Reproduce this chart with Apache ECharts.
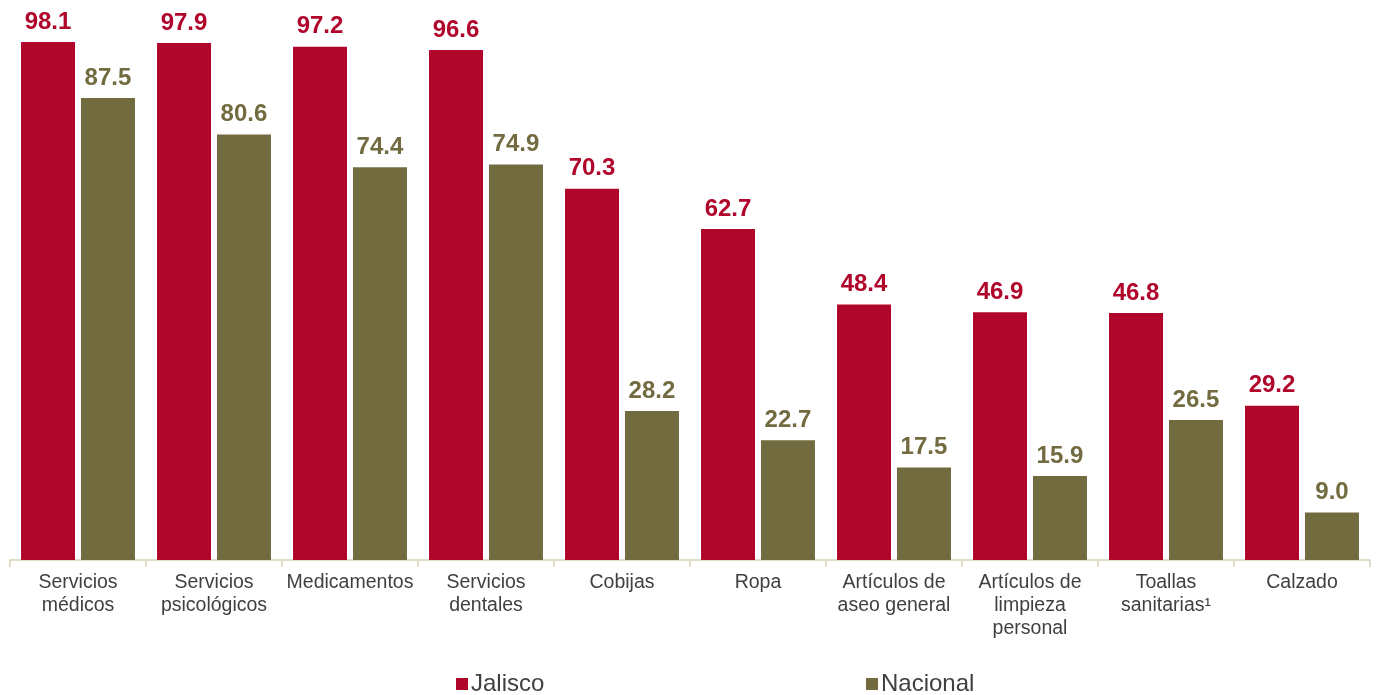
<!DOCTYPE html>
<html><head><meta charset="utf-8">
<script src="https://cdn.jsdelivr.net/npm/echarts@6/dist/echarts.min.js"></script>
<style>html,body{margin:0;padding:0;background:#fff}#c{width:1383px;height:695px}</style>
</head><body><div id="c"></div>
<script>
const categories = ["Servicios\nmédicos","Servicios\npsicológicos","Medicamentos","Servicios\ndentales","Cobijas","Ropa","Artículos de\naseo general","Artículos de\nlimpieza\npersonal","Toallas\nsanitarias¹","Calzado"];
const jalisco = [98.1,97.9,97.2,96.6,70.3,62.7,48.4,46.9,46.8,29.2];
const nacional = [87.5,80.6,74.4,74.9,28.2,22.7,17.5,15.9,26.5,9.0];
const RED = "#b0062c", OLIVE = "#736b40";
const FONT = 'Liberation Sans, Arial, sans-serif';
const chart = echarts.init(document.getElementById('c'));
const lbl = c => ({show:true, position:'top', distance:8, color:c, fontSize:24, fontWeight:'bold', fontFamily:FONT, formatter: p => p.value.toFixed(1)});
chart.setOption({
  animation:false,
  grid:{left:10,right:13,top:32,bottom:135},
  legend:[
    {data:['Jalisco'],left:451,top:667,itemWidth:12,itemHeight:12,itemGap:0,icon:'rect',textStyle:{fontSize:24,color:'#404040',fontFamily:FONT,padding:[0,0,0,-2]}},
    {data:['Nacional'],left:861,top:667,itemWidth:12,itemHeight:12,itemGap:0,icon:'rect',textStyle:{fontSize:24,color:'#404040',fontFamily:FONT,padding:[0,0,0,-2]}}
  ],
  xAxis:{type:'category',data:categories,
    axisLine:{lineStyle:{color:'#d9d2b5',width:1.5}},
    axisTick:{show:true,length:7,lineStyle:{color:'#d9d2b5',width:1.5}},
    axisLabel:{interval:0,margin:11,color:'#404040',fontSize:19.5,lineHeight:23,fontFamily:FONT}},
  yAxis:{type:'value',min:0,max:100,show:false,splitLine:{show:false}},
  series:[
    {name:'Jalisco',type:'bar',data:jalisco,barWidth:54,barGap:'11%',itemStyle:{color:RED},label:lbl(RED)},
    {name:'Nacional',type:'bar',data:nacional,barWidth:54,itemStyle:{color:OLIVE},label:lbl(OLIVE)}
  ]
});
</script></body></html>
